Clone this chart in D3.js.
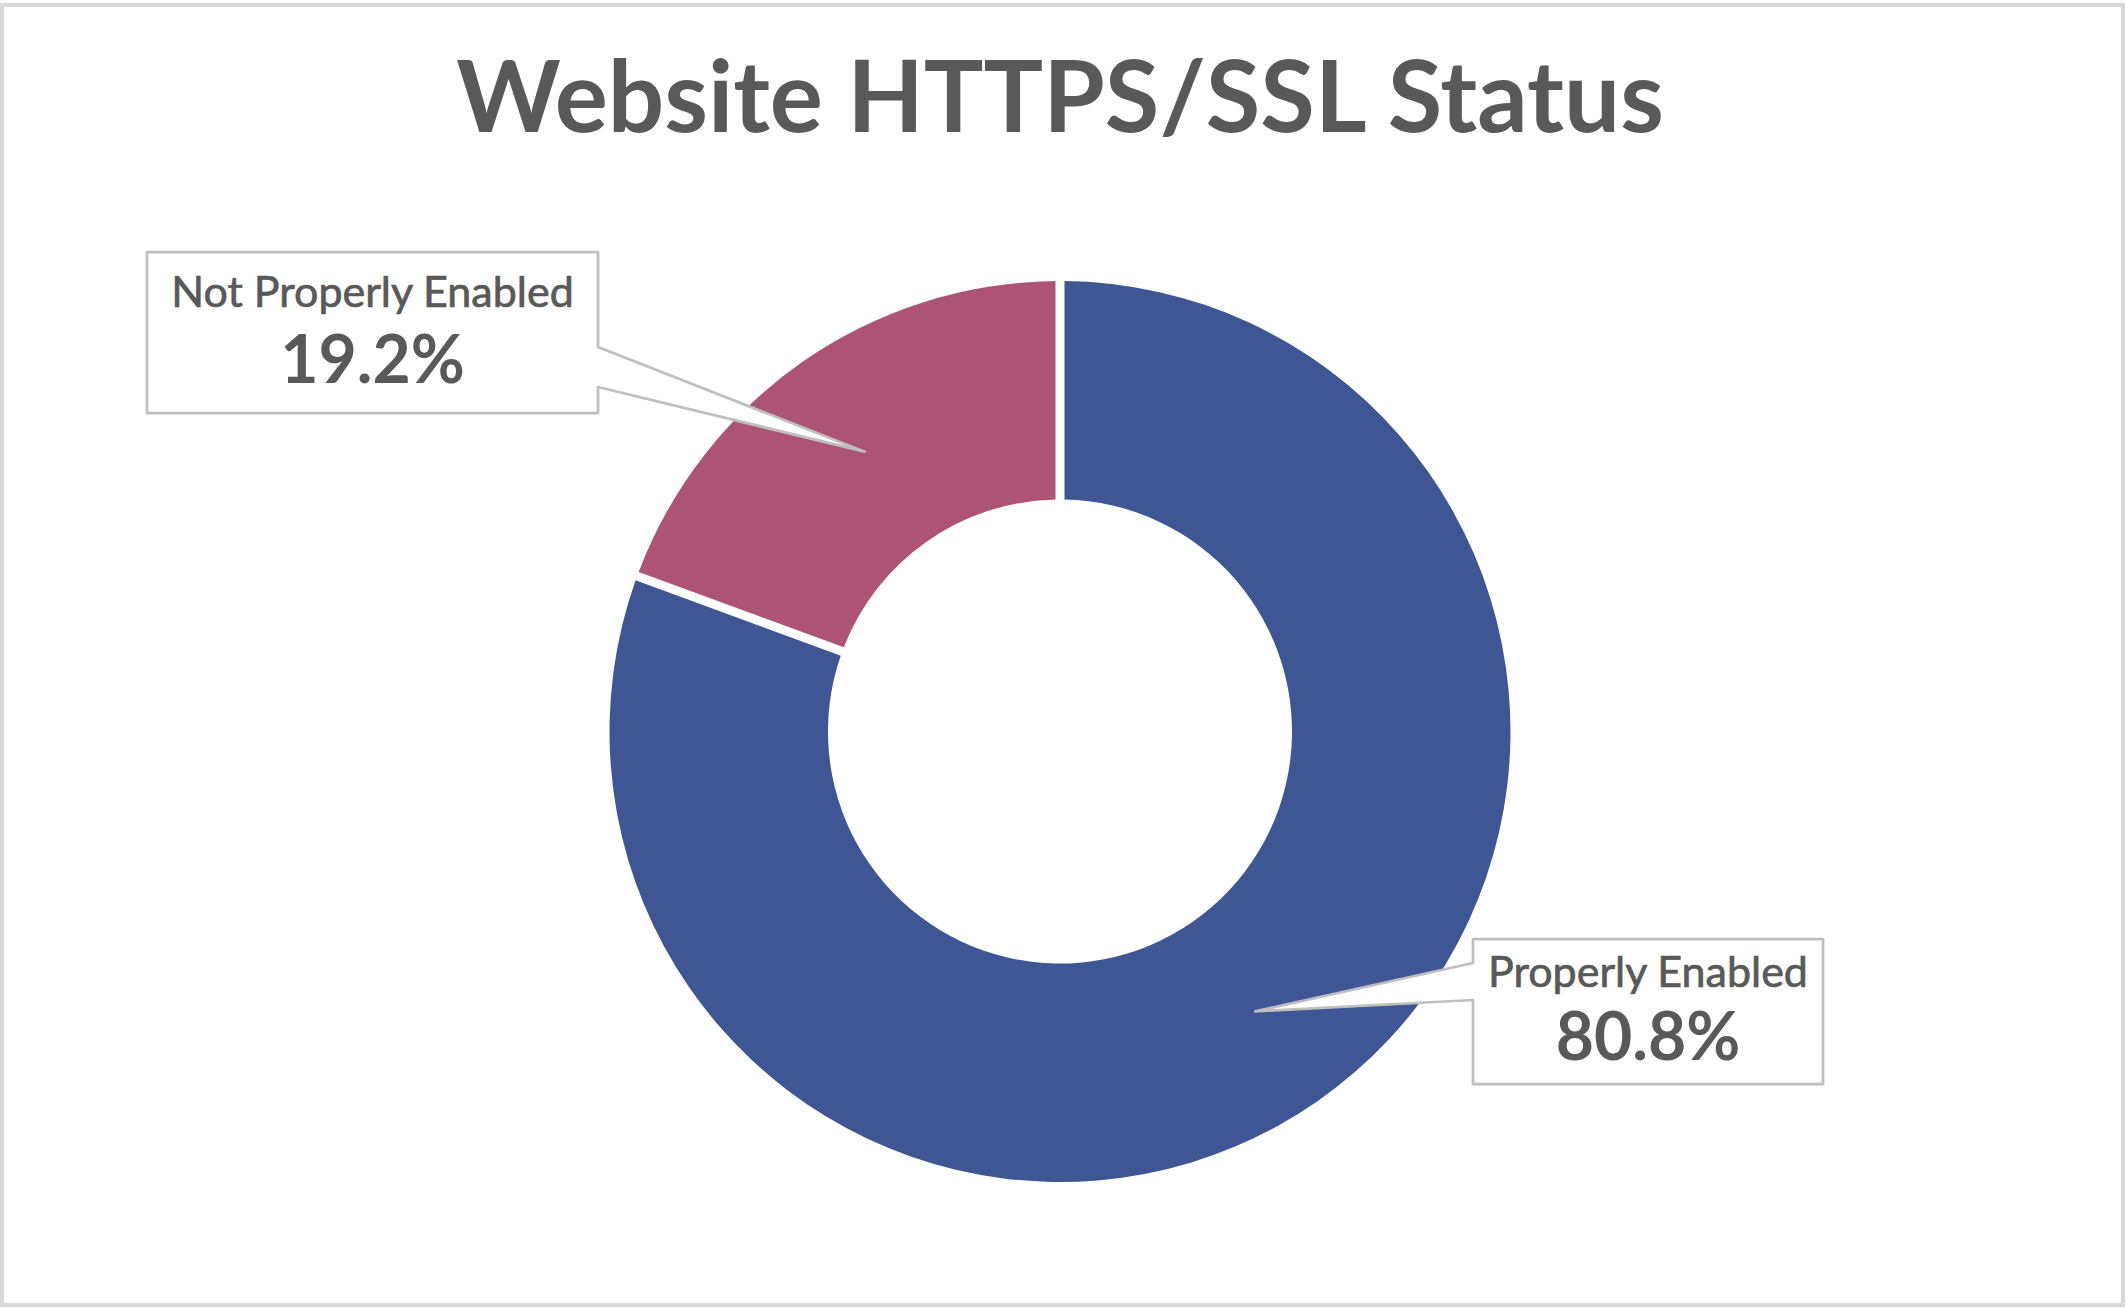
<!DOCTYPE html>
<html>
<head>
<meta charset="utf-8">
<script src="https://cdn.jsdelivr.net/npm/d3@7"></script>
<style>
  body { margin: 0; background: #fff; }
  text { font-family: Lato, 'Open Sans', sans-serif; fill: #595959; }
  .title { font-size: 99.5px; font-weight: bold; }
  /* Excel labels look a bit heavier than Lato regular */
  .lbl-name { font-size: 43px; stroke: #595959; stroke-width: 0.7px; }
  .lbl-pct { font-size: 66px; font-weight: bold; }
</style>
</head>
<body>
<svg width="2125" height="1308"></svg>
<script>
// chart data
const categories = ['Properly Enabled', 'Not Properly Enabled']
const shares = [80.8, 19.2]
const sliceColors = ['#3E5693', '#AD5474']

const svg = d3.select('svg')
const width = +svg.attr('width')
const height = +svg.attr('height')

// outer frame
svg.append('rect')
    .attr('x', 2).attr('y', 5)
    .attr('width', width - 4).attr('height', height - 8)
    .attr('fill', '#fff')
    .attr('stroke', '#d9d9d9')
    .attr('stroke-width', 4)

svg.append('text')
    .attr('class', 'title')
    .attr('x', 1060).attr('y', 132)
    .attr('text-anchor', 'middle')
    .text('Website HTTPS/SSL Status')

const cx = 1060, cy = 731.5
const outerR = 450.5, innerR = 232

const data = categories.map((c, i) => ({ name: c, value: shares[i], color: sliceColors[i] }))

const pie = d3.pie()
    .sort(null)
    .value(d => d.value)
    .padAngle(9 / outerR)

const arc = d3.arc()
    .innerRadius(innerR)
    .outerRadius(outerR)
    .padRadius(outerR)

const g = svg.append('g')
    .attr('transform', `translate(${cx},${cy})`)

const arcs = pie(data)

g.selectAll('path.slice').data(arcs)
    .enter().append('path')
        .attr('class', 'slice')
        .attr('d', arc)
        .attr('fill', d => d.data.color)

// callout boxes (page coords), n1/n2 = where the pointer leaves the box
const callouts = {
    'Properly Enabled': { x: 1473, y: 939, w: 350, h: 145, side: 'left', n1: 963, n2: 1000, nameY: 987, pctY: 1060 },
    'Not Properly Enabled': { x: 147, y: 252, w: 451, h: 161, side: 'right', n1: 347, n2: 387, nameY: 307, pctY: 383 }
}

const calloutPath = (b, tip) => {
    const p = d3.path()
    const r = b.x + b.w, btm = b.y + b.h
    if (b.side === 'right') {
        p.moveTo(b.x, b.y); p.lineTo(r, b.y); p.lineTo(r, b.n1)
        p.lineTo(tip[0], tip[1]); p.lineTo(r, b.n2)
        p.lineTo(r, btm); p.lineTo(b.x, btm)
    } else {
        p.moveTo(b.x, b.y); p.lineTo(r, b.y); p.lineTo(r, btm)
        p.lineTo(b.x, btm); p.lineTo(b.x, b.n2)
        p.lineTo(tip[0], tip[1]); p.lineTo(b.x, b.n1)
    }
    p.closePath()
    return p.toString()
}

const fmt = d3.format('.1f')

arcs.forEach(a => {
    const b = callouts[a.data.name]
    const c = arc.centroid(a)
    const tip = [cx + c[0], cy + c[1]]
    svg.append('path')
        .attr('d', calloutPath(b, tip))
        .attr('fill', '#fff')
        .attr('stroke', '#bfbfbf')
        .attr('stroke-width', 2.75)
        .attr('stroke-linejoin', 'round')
    svg.append('text')
        .attr('class', 'lbl-name')
        .attr('x', b.x + b.w / 2).attr('y', b.nameY)
        .attr('text-anchor', 'middle')
        .text(a.data.name)
    svg.append('text')
        .attr('class', 'lbl-pct')
        .attr('x', b.x + b.w / 2).attr('y', b.pctY)
        .attr('text-anchor', 'middle')
        .text(fmt(a.data.value) + '%')
})
</script>
</body>
</html>
